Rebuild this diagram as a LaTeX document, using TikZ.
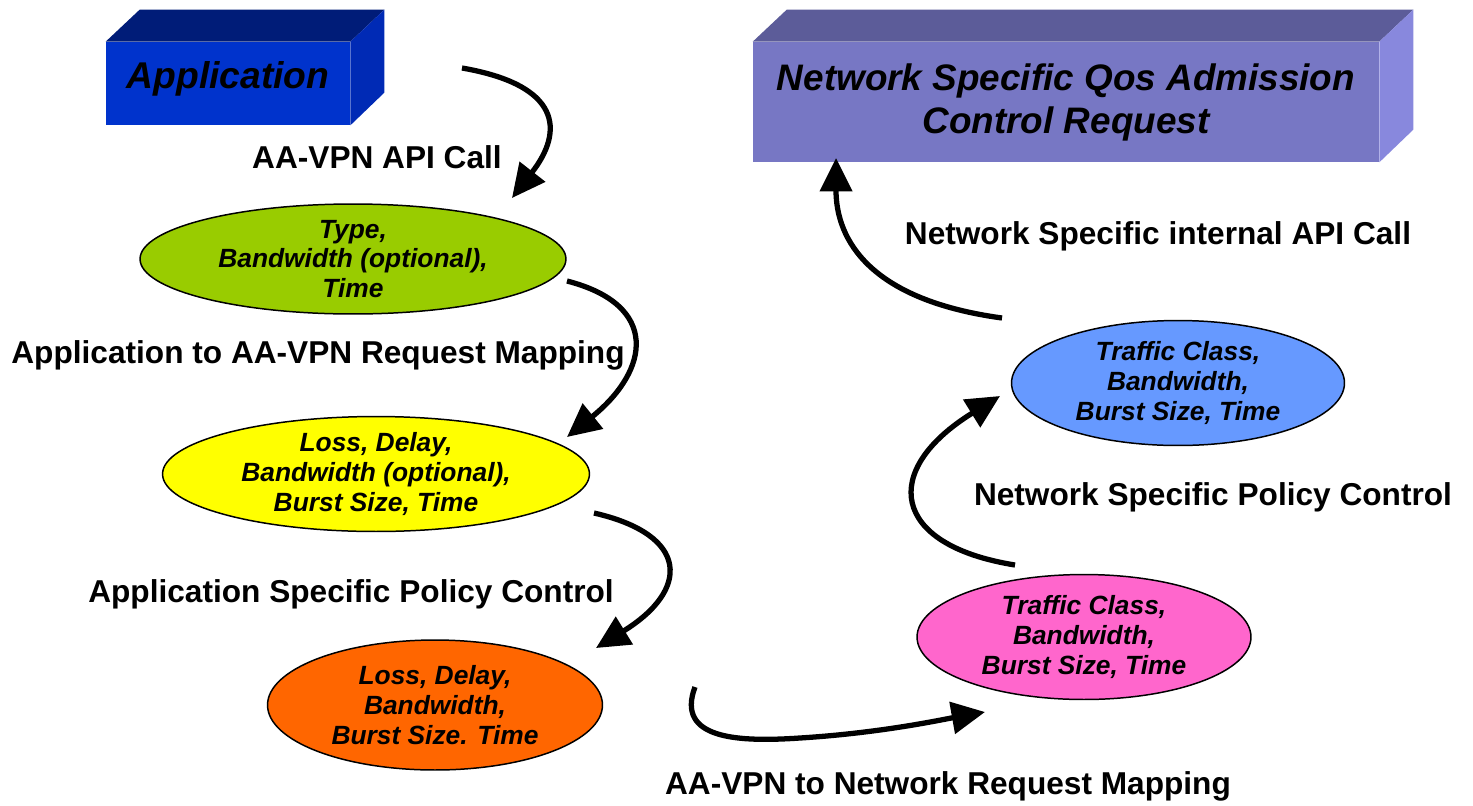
\documentclass[tikz,border=0pt]{standalone}
\usepackage{fontspec}
\setmainfont{Liberation Sans}
\usetikzlibrary{shapes.geometric,arrows.meta}
\definecolor{appfront}{HTML}{0033CC}
\definecolor{apptop}{HTML}{001C78}
\definecolor{appside}{HTML}{002AB5}
\definecolor{qosfront}{HTML}{7777C4}
\definecolor{qostop}{HTML}{5C5C99}
\definecolor{qosside}{HTML}{8888DD}
\definecolor{reqgreen}{HTML}{99CC00}
\definecolor{reqyellow}{HTML}{FFFF00}
\definecolor{reqorange}{HTML}{FF6600}
\definecolor{netpink}{HTML}{FF66CC}
\definecolor{netblue}{HTML}{6699FF}
\newcommand{\labelfont}{\fontsize{18}{21}\selectfont\bfseries}
\newcommand{\bubblefont}{\fontsize{15}{17}\selectfont\bfseries\itshape}
\newcommand{\appfont}{\fontsize{21.2}{25}\selectfont\bfseries\itshape}
\newcommand{\qosfont}{\fontsize{21}{24.5}\selectfont\bfseries\itshape}
\tikzset{bubble/.style={draw, ellipse, line width=0.85pt, inner sep=0pt},
    bubbletext/.style={font=\bubblefont, align=center},
    steplabel/.style={font=\labelfont},
    frontface/.style={inner sep=0pt, align=center},
    flow/.style={line width=3pt, -{Triangle[length=19pt,width=18pt]}}}

\begin{document}
\begin{tikzpicture}[x=0.02cm,y=-0.02cm]
\useasboundingbox (0,0) rectangle (1473,805);
% boxes
\node[frontface, fill=appfront, minimum width=4.88cm, minimum height=1.66cm] (app) at (228,83.5) {};
\node[font=\appfont] (apptext) at (228,79) {Application};
\fill[apptop] (app.north west) -- ++(34,-32) -- ([shift={(34,-32)}]app.north east) -- (app.north east) -- cycle;
\fill[appside] (app.north east) -- ++(34,-32) -- ++(0,83) -- (app.south east) -- cycle;
\node[frontface, fill=qosfront, font=\qosfont, minimum width=12.52cm, minimum height=2.4cm] (qos) at (1066,102) {Network Specific Qos Admission\\Control Request};
\fill[qostop] (qos.north west) -- ++(34,-32) -- ([shift={(34,-32)}]qos.north east) -- (qos.north east) -- cycle;
\fill[qosside] (qos.north east) -- ++(34,-32) -- ++(0,120) -- (qos.south east) -- cycle;
% ellipses
\node[bubble, fill=reqgreen, minimum width=8.52cm, minimum height=2.2cm,
    label={[bubbletext]center:{Type,\\Bandwidth (optional),\\Time}}] (apireq) at (353,259) {};
\node[bubble, fill=reqyellow, minimum width=8.54cm, minimum height=2.3cm,
    label={[bubbletext]center:{Loss, Delay,\\Bandwidth (optional),\\Burst Size, Time}}] (vpnreq) at (376,474) {};
\node[bubble, fill=reqorange, minimum width=6.7cm, minimum height=2.6cm,
    label={[bubbletext]center:{Loss, Delay,\\Bandwidth,\\Burst Size. Time}}] (vpnpol) at (435,705) {};
\node[bubble, fill=netpink, minimum width=6.68cm, minimum height=2.5cm,
    label={[bubbletext]center:{Traffic Class,\\Bandwidth,\\Burst Size, Time}}] (netreq) at (1084,637) {};
\node[bubble, fill=netblue, minimum width=6.66cm, minimum height=2.5cm,
    label={[bubbletext]center:{Traffic Class,\\Bandwidth,\\Burst Size, Time}}] (netpol) at (1178,383) {};
% step labels
\node[steplabel] (l1) at (377,157) {AA-VPN API Call};
\node[steplabel] (l2) at (318,355) {Application to AA-VPN Request Mapping};
\node[steplabel] (l3) at (351,594) {Application Specific Policy Control};
\node[steplabel] (l4) at (948,786) {AA-VPN to Network Request Mapping};
\node[steplabel] (l5) at (1213,497) {Network Specific Policy Control};
\node[steplabel] (l6) at (1158,236) {Network Specific internal API Call};
% arrow ends
\coordinate (s1) at (462,68);    \coordinate (t1) at (512,198);
\coordinate (s2) at (567,281);   \coordinate (t2) at (567,437);
\coordinate (s3) at (594,513);   \coordinate (t3) at (596,648);
\coordinate (s4) at (695,687);   \coordinate (t4) at (985,712);
\coordinate (s5) at (1015,565);  \coordinate (t5) at (1000,396);
\coordinate (s6) at (1002,318);  \coordinate (t6) at (836,158);
\draw[flow] (s1) .. controls (560,85) and (565,130) .. (t1);
\draw[flow] (s2) .. controls (660,305) and (650,370) .. (t2);
\draw[flow] (s3) .. controls (690,535) and (690,590) .. (t3);
\draw[flow] (s4) .. controls (675,740) and (740,742) .. (800,738) .. controls (880,733) and (940,720) .. (t4);
\draw[flow] (s5) .. controls (890,545) and (880,470) .. (t5);
\draw[flow] (s6) .. controls (870,300) and (836,240) .. (t6);
\end{tikzpicture}
\end{document}
